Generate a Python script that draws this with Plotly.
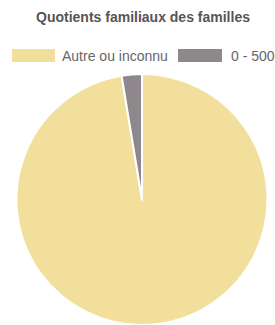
import plotly.graph_objects as go

labels = ["Autre ou inconnu", "0 - 500"]
values = [97.4, 2.6]
colors = ["#F2DF9C", "#8E888C"]
title = "Quotients familiaux des familles"

W, H = 275, 325
L, R, T, B = 16, 7, 74, 0
PW, PH = W - L - R, H - T - B


def px(x):
    return (x - L) / PW


def py(y):
    return (H - B - y) / PH


fig = go.Figure(go.Pie(
    labels=labels, values=values, sort=False, direction="clockwise", rotation=0,
    marker=dict(colors=colors, line=dict(color="white", width=2)),
    textinfo="none", hoverinfo="label+value", showlegend=False,
))

box_x = [(12, 55), (178, 222)]
text_x = [60, 229]
shapes, annotations = [], []
for i, lab in enumerate(labels):
    x0, x1 = box_x[i]
    shapes.append(dict(type="rect", xref="paper", yref="paper",
                       x0=px(x0), x1=px(x1), y0=py(62), y1=py(49),
                       fillcolor=colors[i], line=dict(width=0)))
    annotations.append(dict(text=lab, xref="paper", yref="paper",
                            x=px(text_x[i]), y=py(55.5),
                            xanchor="left", yanchor="middle", showarrow=False,
                            font=dict(size=14, color="#666666", family="Liberation Sans")))

fig.update_layout(
    width=W, height=H,
    margin=dict(l=L, r=R, t=T, b=B),
    paper_bgcolor="white", plot_bgcolor="white",
    title=dict(text="<b>" + title + "</b>", x=0.52, xanchor="center",
               y=1 - 17 / H, yanchor="middle",
               font=dict(size=14, color="#555555", family="Liberation Sans")),
    shapes=shapes, annotations=annotations,
)
fig.write_html("out.html", config={"displayModeBar": False},
               post_script="document.body.style.margin='0';document.body.style.overflow='hidden';")
